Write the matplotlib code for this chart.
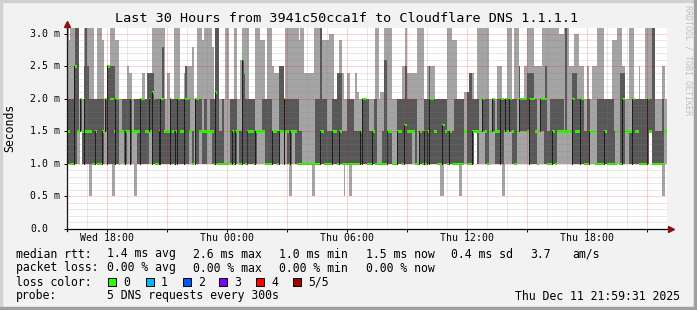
import numpy as np
import matplotlib
matplotlib.use("Agg")
import matplotlib.pyplot as plt
from matplotlib.patches import Rectangle
from matplotlib.ticker import MultipleLocator

W, H = 697, 310

# 360 rounds of 5 DNS pings, one every 5 min, Wed 16:00 -> Thu 22:00
# one char per round, base-36 digit in tenths of a ms ('a'=1.0 'f'=1.5 'k'=2.0 'p'=2.5 'v'=3.1)
ping_min = [
    "aaaaaaaafa", "aaa55aaaaa", "aaaaaaa55a", "aaaaaaaaaa", "55aaaaaaaa", "aaaaaaaaaa", "aaaaaaaaaa", "aaaaaaaaaa", "aaaaaaaaaa",
    "aaaaaaaaaa", "aaaaaaaaaa", "aaaaaaaaaa", "aaaaaaaaaa", "aaa55aaaaa", "aaaaaaa55a", "aaaaaaaaaa", "aaaaaa5aa5", "5aaaaaaaaa",
    "aaaaaaaaaa", "aaaaaaaaaa", "aaaaaaaaaa", "aaaaaaaaaa", "aaaa55aaaa", "aaaaa55aaa", "aaaaffaaaa", "aaaaaaaaaa", "a55aaaaaaa",
    "aaaaaaaaaa", "aaaaaaaaaa", "aaaaaaaaaa", "aaaaaaaaaa", "aaaaaaaaaa", "aaaaaaaaaa", "aaaaaaaaaa", "aaaaaaaaaf", "faaaaaa55a",
]
ping_lo = [
    "aaaaaafffa", "aaaaaaaaaa", "aaffaaaaaa", "aaffaaffaf", "ffaaaaaaaf", "faaaaaaaaa", "aaaaaaaaaa", "aaaffafaaf", "faaafffaaa",
    "aaaaaaafaa", "aafaaaaaaa", "aaaafffffa", "aaaaaaaaff", "afaaaffaaa", "aaaaaaaaaa", "aaaaaaaaaa", "aaaaaaaaaa", "aaaaaaaaaa",
    "aaaaaaaaaa", "aaaaaaaaaa", "aaaaaaaffa", "aaaaaaaaaa", "aaaaaaaaaa", "aaaaaaaaff", "aaaaffafff", "faaafffaaa", "aafffffaaa",
    "fffffffaaa", "aaafffaaaa", "aaaaffffff", "fffaaaaaaa", "aaaafffaaa", "aaaaaaaaaa", "faaaaffaaa", "aaaaaaaaaf", "faaaaaaaff",
]
ping_median = [
    "ffaappffkf", "kffffaafaa", "affkppkkfk", "kaffafffkf", "ffffkkkffk", "flkaafkkff", "ffkfafkkff", "kkkffafkkf", "ffffffffal",
    "aaaaaaafaf", "affaaqoaff", "ffaffffffa", "aaafffafff", "kffaffffaa", "aaaaaaaaaa", "aaffaaaaaf", "ffaffaaaaa", "aaaaaafkkk",
    "aaaffaaaaa", "aafffaaaff", "faggfffffa", "affafafkkk", "ffaaaggfaf", "faaaaaaaff", "aaaffffffk", "kfaafkkfff", "kkfkfkkfaa",
    "fkkkkkfkkk", "kfafkkkkaa", "affaffffff", "fffkkfffkk", "aaaffffaaa", "aaffaaaaaa", "faakkffffk", "kffaaaaakf", "faaaaaaaff",
]
ping_hi = [
    "kkkkpvvfkf", "pvpkkkkkkk", "kkfkpppppk", "kafkkkkkkf", "kkkkkkkkoo", "ookkkkkskf", "ffkkkkkkkk", "kpkkfffkkk", "kfkkffkkkv",
    "vffkaaafkk", "kkfffqokkk", "kkkffffkkk", "kkkffffppp", "kkkkkkkkkf", "faaaaaaaak", "kkvkkkfffk", "kkooofffkk", "kkfffffkkk",
    "kfffkkaaaf", "qqfffaaakk", "kkkpkkkkkk", "afffkkkpkk", "kkkkkkkkff", "ffkkkkkkff", "lookkkkffk", "kkkafkkfkk", "kkkkkkkkkk",
    "fpkkkkoooo", "kkafkkkpff", "kkkkkkkkfv", "fffoookkkk", "ffkkfffakk", "kkkkkkkkfa", "faoooffffk", "kkkkkkkkkk", "kvvffffkff",
]
ping_max = [
    "vtvvvvvkkk", "vvvvvvkkvv", "vtkkppvvvt", "tkkkkkpook", "kkkkkookoo", "ovvvvvvvvk", "ookkvvvvkk", "oppppskkvv", "vtvvvvvskv",
    "vkkkkvvkkk", "vvkkqvvvvk", "kkkvvvtttk", "vvvpoooppp", "kvvvvvvvvt", "vvoooooovv", "vvvttttuuu", "kkottokkoo", "kkkolkkkkk",
    "kkkkkvvkll", "vvvvvkkkkk", "kppvoooooo", "vvvvkkpppp", "pkkkkkkkvv", "vtttkkkkll", "loookkvvvv", "vvvkkkkkpp", "pkkkvvvkvv",
    "vpkkppvvvv", "pppppvvvvv", "vvvvvuuuvv", "vpppuuuppp", "kkpkkpppvv", "vvkkkkkttt", "vvvppkkvvv", "kkkpkkkvvv", "vvvkkkkppk",
]

ytick_vals = [0.0, 0.5, 1.0, 1.5, 2.0, 2.5, 3.0]
ytick_labels = ["0.0", "0.5 m", "1.0 m", "1.5 m", "2.0 m", "2.5 m", "3.0 m"]
xtick_hours = [18, 24, 30, 36, 42]
xtick_labels = ["Wed 18:00", "Thu 00:00", "Thu 06:00", "Thu 12:00", "Thu 18:00"]

rtt_stats = ["1.4 ms avg", "2.6 ms max", "1.0 ms min", "1.5 ms now", "0.4 ms sd", "3.7", "am/s"]
loss_stats = ["0.00 % avg", "0.00 % max", "0.00 % min", "0.00 % now"]
loss_names = ["0", "1", "2", "3", "4", "5/5"]
loss_colors = ["#26ff00", "#00b8ff", "#0059ff", "#7e00ff", "#ff0000", "#a10000"]


def decode(chunks):
    return np.array([int(c, 36) / 10 for c in "".join(chunks)])


mn, lo, med, hi, mx = (decode(s) for s in (ping_min, ping_lo, ping_median, ping_hi, ping_max))
step = 5 / 60
t = 16 + np.arange(len(med)) * step

plt.rcParams["font.family"] = "DejaVu Sans Mono"
fig = plt.figure(figsize=(W / 100, H / 100), dpi=100, facecolor="#f2f2f2")
ax = fig.add_axes([67 / W, 81 / H, 600 / W, 201 / H])
ax.set_facecolor("white")

# smoke: outer pings light, inner pings dark, median as a green dash
ax.bar(t, mx - mn, bottom=mn, width=step, align="edge", color="#a4a4a4", linewidth=0, antialiased=False)
ax.bar(t, hi - lo, bottom=lo, width=step, align="edge", color="#585858", linewidth=0, antialiased=False)
up = np.r_[False, med[1:] > med[:-1]]
ax.vlines(t[up], lo[up], med[up], color="#1c1c1c", linewidth=0.72, antialiased=False)
ax.bar(t, 0.035, bottom=med - 0.0175, width=step, align="edge", color="#26ff00", linewidth=0, antialiased=False)

ax.set_xlim(16, 46)
ax.set_ylim(0, 3.09)
ax.xaxis.set_major_locator(MultipleLocator(3))
ax.xaxis.set_minor_locator(MultipleLocator(1))
ax.yaxis.set_major_locator(MultipleLocator(0.5))
ax.yaxis.set_minor_locator(MultipleLocator(0.1))
ax.set_axisbelow(False)
ax.grid(which="minor", color="#808080", alpha=0.35, linestyle=(0, (1, 1)), linewidth=0.72)
ax.grid(which="major", color="#ff0000", alpha=0.35, linestyle=(0, (1, 1)), linewidth=0.72)
ax.tick_params(which="major", length=2, width=0.7, direction="out", color="black",
               labelbottom=False, labelleft=False)
ax.tick_params(which="minor", length=0)
for s in ax.spines.values():
    s.set_visible(False)

# axes with the little rrdtool arrows
ax.plot([0, 1.006], [0, 0], transform=ax.transAxes, color="black", lw=0.9, clip_on=False)
ax.plot([0, 0], [-0.01, 1.015], transform=ax.transAxes, color="black", lw=0.9, clip_on=False)
ax.plot([1.007], [0], marker=">", ms=4, color="#8b1010", transform=ax.transAxes, clip_on=False)
ax.plot([0], [1.022], marker="^", ms=4, color="#8b1010", transform=ax.transAxes, clip_on=False)

for v, lab in zip(ytick_vals, ytick_labels):
    ax.text(-0.0617, v, lab, transform=ax.get_yaxis_transform(), ha="left", va="center", fontsize=7.1)
for h, lab in zip(xtick_hours, xtick_labels):
    ax.text(h, -0.043, lab, transform=ax.get_xaxis_transform(), ha="center", va="center", fontsize=7.1)


def ftext(x, y, s, **kw):
    kw.setdefault("fontsize", 8.3)
    kw.setdefault("va", "center")
    fig.text(x / W, 1 - y / H, s, **kw)


ftext(347, 18.5, "Last 30 Hours from 3941c50cca1f to Cloudflare DNS 1.1.1.1", ha="center", fontsize=9.7)
ftext(10, 128, "Seconds", ha="center", rotation=90)
ftext(688, 60, "RRDTOOL / TOBI OETIKER", ha="center", rotation=270, fontsize=6, color="#c0c0c0")

ftext(16, 254, "median rtt:")
for x, s in zip([107, 193, 279, 366, 451, 530, 572], rtt_stats):
    ftext(x, 254, s)
ftext(16, 268, "packet loss:")
for x, s in zip([107, 193, 279, 366], loss_stats):
    ftext(x, 268, s)
ftext(16, 282, "loss color:")
for x, name, c in zip([108, 146, 183, 219, 256, 293], loss_names, loss_colors):
    fig.add_artist(Rectangle((x / W, 1 - 286 / H), 8 / W, 8 / H, transform=fig.transFigure,
                             facecolor=c, edgecolor="black", linewidth=0.7))
    ftext(x + 15, 282, name)
ftext(16, 296, "probe:")
ftext(107, 296, "5 DNS requests every 300s")
ftext(680, 296, "Thu Dec 11 21:59:31 2025", ha="right")

# frame shading
fig.add_artist(Rectangle((0, 1 - 2 / H), 1, 2 / H, transform=fig.transFigure, color="#d2d2d2"))
fig.add_artist(Rectangle((0, 0), 2 / W, 1, transform=fig.transFigure, color="#d2d2d2"))
fig.add_artist(Rectangle((0, 0), 1, 3 / H, transform=fig.transFigure, color="#9e9e9e"))
fig.add_artist(Rectangle((1 - 3 / W, 0), 3 / W, 1, transform=fig.transFigure, color="#9e9e9e"))

fig.savefig("out.png", dpi=100, facecolor=fig.get_facecolor())
